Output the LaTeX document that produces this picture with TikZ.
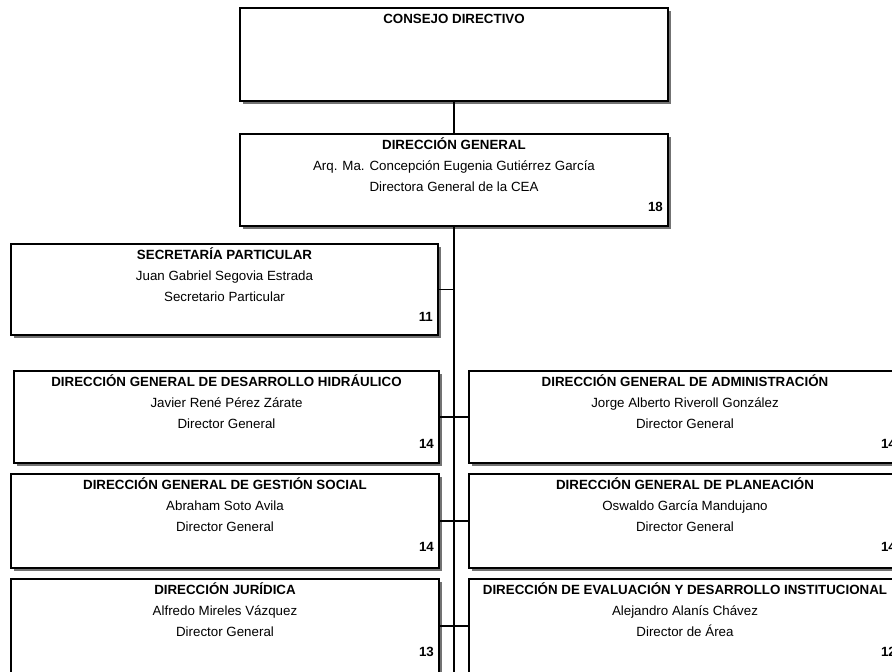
\documentclass[tikz,border=0pt]{standalone}
\usepackage{fontspec}
\setmainfont{Liberation Sans}
\usetikzlibrary{calc,shadows}
\tikzset{
  orgbox/.style={draw=black, line width=1pt, fill=white, rectangle, inner sep=0pt,
    drop shadow={shadow xshift=2pt, shadow yshift=-2pt, fill=black!55, opacity=1}},
  ttl/.style={font=\fontsize{10}{12}\selectfont\bfseries, inner sep=0pt, anchor=base},
  txt/.style={font=\fontsize{10}{12}\selectfont, inner sep=0pt, anchor=base},
  num/.style={font=\fontsize{10}{12}\selectfont\bfseries, inner sep=0pt, anchor=base east},
  conn/.style={draw=black, line width=1pt}
}
\newcommand{\OrgBox}[9]{%
  \node[orgbox, minimum width={(#4-#2)*0.75pt}, minimum height={(#5-#3)*0.75pt}] (#1) at ({(#2+#4)/2},{(#3+#5)/2}) {};
  \node[ttl] (#1-t) at ($(#1.north)+(0,16.5)$) {#6};
  \node[txt] (#1-p) at ($(#1.north)+(0,37.5)$) {#7};
  \node[txt] (#1-r) at ($(#1.north)+(0,58.5)$) {#8};
  \node[num] (#1-n) at ($(#1.north east)+(-5.5,78)$) {#9};
}
\begin{document}
\begin{tikzpicture}[x=0.75pt,y=-0.75pt]
\useasboundingbox (0,0) rectangle (892,671);
\fill[white] (0,0) rectangle (892,671);
% top boxes
\node[orgbox, minimum width={428*0.75pt}, minimum height={93*0.75pt}] (cd) at (454,54.5) {};
\node[ttl] (cd-t) at ($(cd.north)+(0,16)$) {CONSEJO DIRECTIVO};
\OrgBox{dg}{240}{134}{668}{226}{DIRECCIÓN GENERAL}{Arq. Ma. Concepción Eugenia Gutiérrez García}{Directora General de la CEA}{18}
\OrgBox{sec}{11}{244}{438}{335}{SECRETARÍA PARTICULAR}{Juan Gabriel Segovia Estrada}{Secretario Particular}{11}
\OrgBox{la}{14}{371}{439}{463}{DIRECCIÓN GENERAL DE DESARROLLO HIDRÁULICO}{Javier René Pérez Zárate}{Director General}{14}
\OrgBox{lb}{11}{474}{439}{568}{DIRECCIÓN GENERAL DE GESTIÓN SOCIAL}{Abraham Soto Avila}{Director General}{14}
\OrgBox{lc}{11}{579}{439}{673}{DIRECCIÓN JURÍDICA}{Alfredo Mireles Vázquez}{Director General}{13}
\OrgBox{ra}{469}{371}{901}{463}{DIRECCIÓN GENERAL DE ADMINISTRACIÓN}{Jorge Alberto Riveroll González}{Director General}{14}
\OrgBox{rb}{469}{474}{901}{568}{DIRECCIÓN GENERAL DE PLANEACIÓN}{Oswaldo García Mandujano}{Director General}{14}
\OrgBox{rc}{469}{579}{901}{673}{DIRECCIÓN DE EVALUACIÓN Y DESARROLLO INSTITUCIONAL}{Alejandro Alanís Chávez}{Director de Área}{12}
% connectors
\coordinate (spineend) at (455,675);
\draw[conn] (cd.south) -- (dg.north);
\draw[conn] (dg.south) -- (dg.south |- spineend);
\draw[conn] (sec.east) -- (sec.east -| dg.south);
\draw[conn] (la.east) -- (ra.west);
\draw[conn] (lb.east) -- (rb.west);
\draw[conn] (lc.east) -- (rc.west);
\end{tikzpicture}
\end{document}
